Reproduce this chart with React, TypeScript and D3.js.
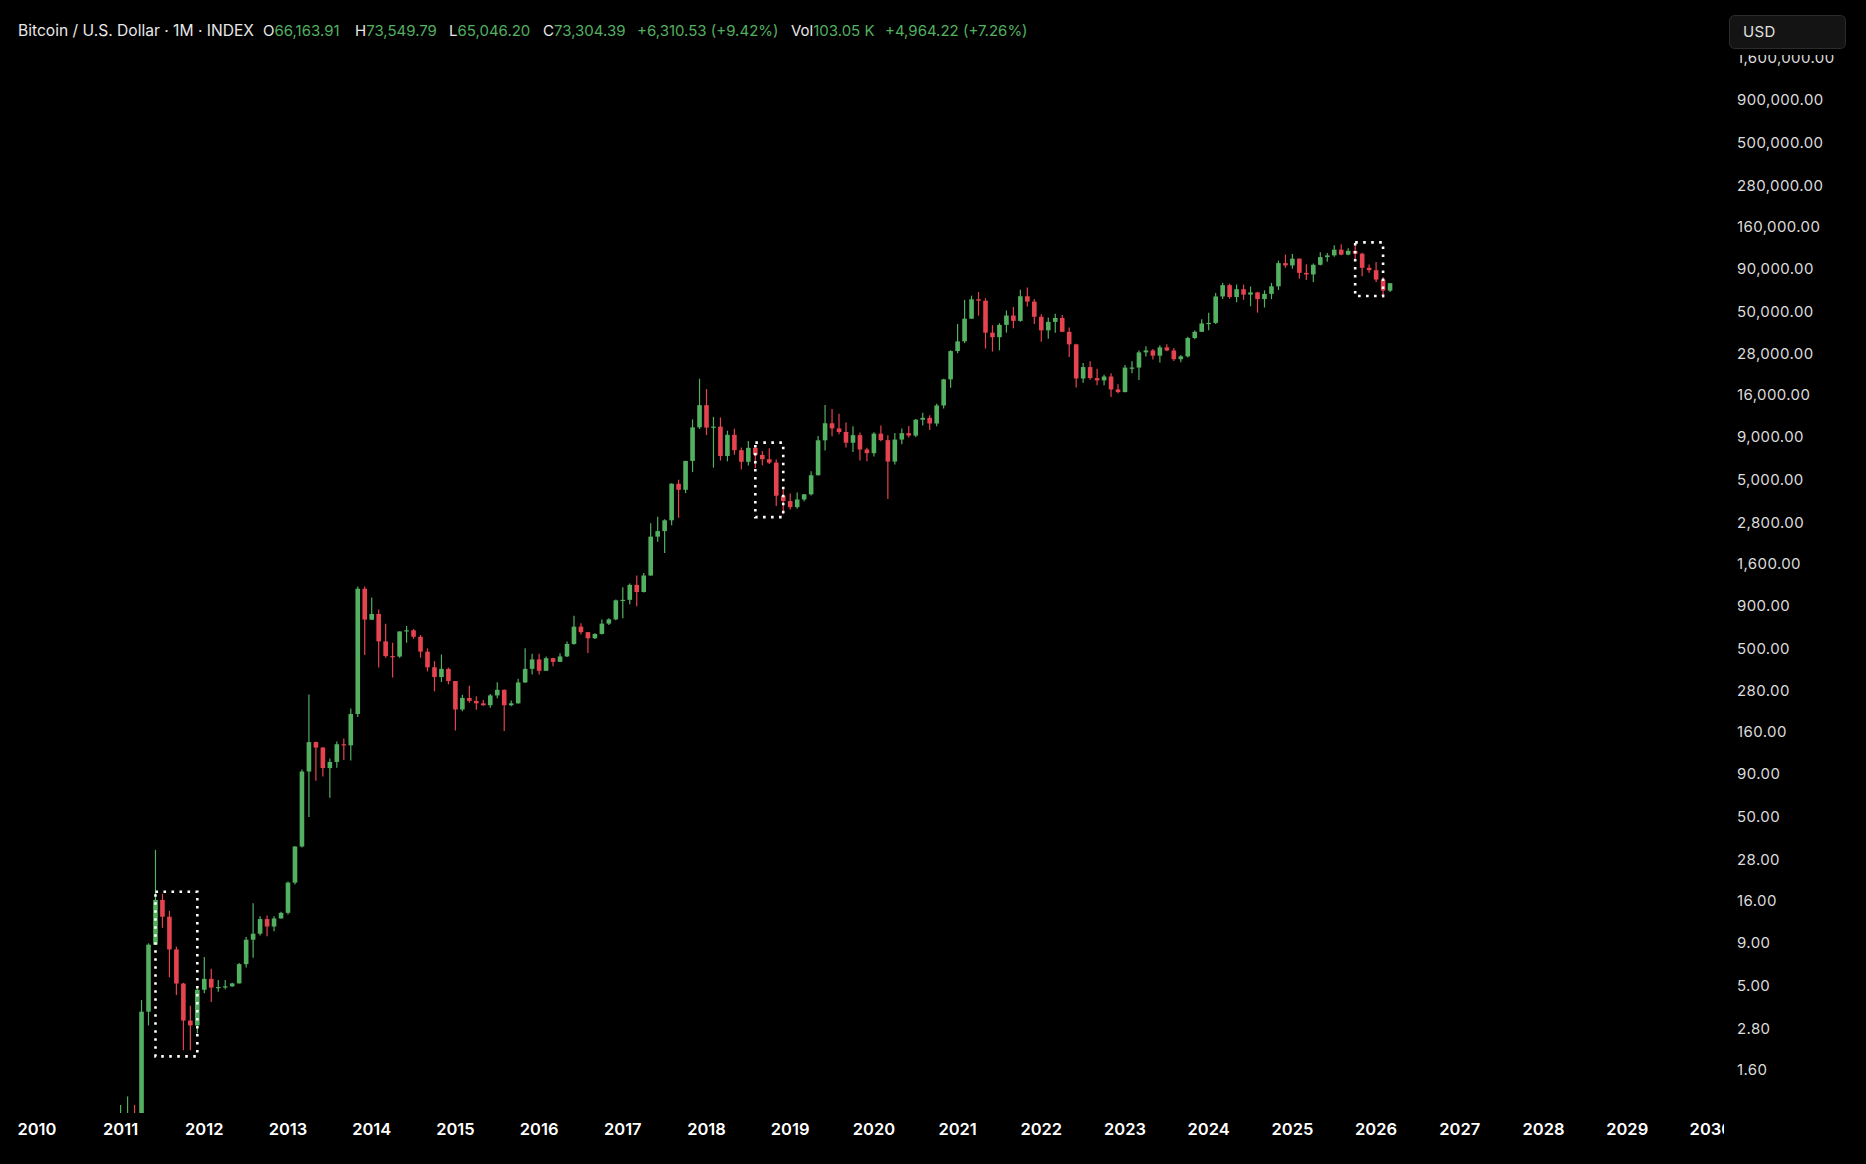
import React from 'react';
import * as d3 from 'd3';

// ---------- DATA (monthly candles, starting Jul 2010) ----------
const START_MONTH = '2010-07';

const opens = [
  // 2010 Jul-Dec
  0.05, 0.07, 0.06, 0.06, 0.19, 0.21,
  // 2011
  0.30, 0.52, 0.86, 0.78, 3.50, 8.74, 16.10, 12.80, 8.19, 5.14, 3.10, 2.90,
  // 2012
  4.72, 5.48, 4.86, 4.90, 4.95, 5.15, 6.70, 9.35, 10.15, 12.40, 11.20, 12.50,
  // 2013
  13.50, 20.40, 33.40, 93.00, 139.00, 129.00, 97.50, 106.00, 135.00, 133.00, 204.00, 1129.00,
  // 2014
  740, 800, 550, 450, 447, 630, 640, 586, 478, 386, 338, 378,
  // 2015
  320, 217, 254, 244, 236, 230, 263, 284, 230, 236, 314, 378,
  // 2016
  430, 368, 437, 416, 448, 531, 673, 624, 574, 609, 701, 743,
  // 2017
  964, 970, 1190, 1080, 1352, 2300, 2480, 2875, 4735, 4360, 6468, 10230,
  // 2018
  13850, 10200, 10330, 6920, 9240, 7490, 6390, 7730, 7020, 6620, 6320, 4020,
  // 2019
  3740, 3440, 3820, 4100, 5320, 8570, 10820, 10080, 9600, 8290, 9200, 7560,
  // 2020
  7190, 9390, 8590, 6410, 8660, 9450, 9140, 11350, 11650, 10780, 13790, 19700,
  // 2021
  28990, 33110, 45140, 58800, 57700, 37300, 35040, 41460, 47100, 43790, 61300, 57000,
  // 2022
  46300, 38480, 43190, 45540, 37700, 31790, 19940, 23300, 20050, 19430, 20490, 17170,
  // 2023
  16550, 23140, 23150, 28480, 29250, 27220, 30480, 29230, 25940, 26970, 34650, 37720,
  // 2024
  42280, 42580, 61130, 71330, 60640, 67500, 62680, 64620, 58970, 63330, 70220, 96400,
  // 2025
  93400, 102400, 84350, 82550, 94200, 104600, 107100, 115800, 108200, 114000, 109600, 90400,
  // 2026
  87500, 77000, 66163.91,
];

const highs = [
  0.10, 0.07, 0.07, 0.19, 0.50, 0.30,
  0.98, 1.10, 0.98, 4.10, 8.90, 31.91, 17.50, 13.90, 8.50, 5.20, 3.80, 4.80,
  7.38, 6.30, 5.40, 5.40, 5.20, 6.80, 9.70, 15.40, 12.90, 13.00, 12.90, 13.70,
  20.70, 33.50, 95.70, 266.00, 140.00, 130.00, 111.00, 140.00, 146.00, 220.00, 1163.00, 1163.00,
  1000, 850, 700, 540, 630, 680, 650, 600, 500, 420, 460, 384,
  320, 265, 300, 260, 247, 268, 315, 285, 245, 330, 500, 465,
  465, 448, 440, 467, 550, 780, 704, 626, 615, 741, 755, 975,
  1154, 1212, 1352, 1399, 2761, 3020, 2917, 4770, 5000, 6470, 11400, 19870,
  17250, 11800, 11700, 9760, 10020, 7760, 8500, 7760, 7400, 7680, 6600, 4400,
  4140, 4200, 4120, 5620, 9090, 13880, 13160, 12330, 10940, 10380, 9520, 7750,
  9580, 10500, 9190, 9460, 10080, 10430, 11460, 12470, 12080, 14100, 19860, 29300,
  41950, 58350, 61780, 64900, 59600, 41300, 42400, 50500, 52900, 67000, 69000, 59100,
  47990, 45800, 48200, 47400, 40000, 31990, 24650, 25200, 22800, 21000, 21450, 18400,
  23950, 25250, 29200, 31000, 29850, 31400, 31800, 30200, 27500, 35200, 38430, 44700,
  48970, 64000, 73800, 72800, 71950, 71900, 70000, 65100, 66500, 73600, 99800, 108300,
  109300, 102500, 95000, 95800, 111900, 110500, 123200, 124500, 117900, 126200, 111000, 94600,
  97900, 79500, 73549.79,
];

const lows = [
  0.05, 0.06, 0.06, 0.06, 0.19, 0.19,
  0.29, 0.52, 0.68, 0.56, 2.90, 8.70, 11.00, 5.60, 4.40, 2.07, 2.07, 2.60,
  4.50, 4.00, 4.60, 4.75, 4.90, 5.15, 6.40, 7.30, 9.90, 9.80, 10.50, 12.50,
  13.20, 19.90, 33.00, 50.00, 82.00, 87.00, 65.00, 98.00, 109.00, 108.00, 196.00, 456.00,
  737, 385, 440, 336, 440, 540, 570, 440, 365, 278, 316, 306,
  163, 212, 238, 216, 228, 222, 253, 162, 227, 235, 312, 350,
  350, 368, 391, 415, 445, 525, 605, 470, 568, 604, 688, 735,
  754, 912, 889, 1072, 1350, 2142, 1837, 2686, 2980, 4165, 5550, 10000,
  9200, 5900, 6500, 6430, 7040, 5750, 6070, 5880, 6100, 6200, 3500, 3120,
  3330, 3370, 3730, 4040, 5300, 7450, 9050, 9320, 7760, 7300, 6510, 6430,
  6870, 8450, 3850, 6150, 8110, 8900, 8980, 10500, 9880, 10370, 13220, 17580,
  28130, 32300, 45000, 47000, 30000, 28800, 29300, 37300, 39600, 43280, 53250, 42000,
  32900, 34300, 37200, 37700, 26700, 17600, 18800, 19600, 18150, 18200, 15500, 16300,
  16500, 21400, 19550, 26950, 25800, 24800, 28900, 25300, 24900, 26560, 34100, 37600,
  38500, 41900, 59000, 59200, 56500, 58400, 53500, 49000, 52550, 58900, 66800, 90500,
  89200, 78200, 76600, 74400, 93300, 98200, 105100, 107300, 107300, 102000, 80500, 84400,
  74500, 60000, 65046.20,
];

const closes = [
  0.07, 0.06, 0.06, 0.19, 0.21, 0.30,
  0.52, 0.86, 0.78, 3.50, 8.74, 16.10, 12.80, 8.19, 5.14, 3.10, 2.90, 4.72,
  5.48, 4.86, 4.90, 4.95, 5.15, 6.70, 9.35, 10.15, 12.40, 11.20, 12.50, 13.50,
  20.40, 33.40, 93.00, 139.00, 129.00, 97.50, 106.00, 135.00, 133.00, 204.00, 1129.00, 740.00,
  800, 550, 450, 447, 630, 640, 586, 478, 386, 338, 378, 320,
  217, 254, 244, 236, 230, 263, 284, 230, 236, 314, 378, 430,
  368, 437, 416, 448, 531, 673, 624, 574, 609, 701, 743, 964,
  970, 1190, 1080, 1352, 2300, 2480, 2875, 4735, 4360, 6468, 10230, 13850,
  10200, 10330, 6920, 9240, 7490, 6390, 7730, 7020, 6620, 6320, 4020, 3740,
  3440, 3820, 4100, 5320, 8570, 10820, 10080, 9600, 8290, 9200, 7560, 7190,
  9390, 8590, 6410, 8660, 9450, 9140, 11350, 11650, 10780, 13790, 19700, 28990,
  33110, 45140, 58800, 57700, 37300, 35040, 41460, 47100, 43790, 61300, 57000, 46300,
  38480, 43190, 45540, 37700, 31790, 19940, 23300, 20050, 19430, 20490, 17170, 16550,
  23140, 23150, 28480, 29250, 27220, 30480, 29230, 25940, 26970, 34650, 37720, 42280,
  42580, 61130, 71330, 60640, 67500, 62680, 64620, 58970, 63330, 70220, 96400, 93400,
  102400, 84350, 82550, 94200, 104600, 107100, 115800, 108200, 114000, 109600, 90400, 87500,
  77000, 66163.91, 73304.39,
];

const yearLabels = ['2010', '2011', '2012', '2013', '2014', '2015', '2016', '2017', '2018', '2019', '2020',
  '2021', '2022', '2023', '2024', '2025', '2026', '2027', '2028', '2029', '2030'];

const priceTicks = [1.6, 2.8, 5, 9, 16, 28, 50, 90, 160, 280, 500, 900, 1600, 2800, 5000, 9000,
  16000, 28000, 50000, 90000, 160000, 280000, 500000, 900000, 1600000];

const boxStarts = ['2011-06', '2018-08', '2025-10'];
const boxEnds = ['2011-12', '2018-12', '2026-02'];
const boxTops = [18, 8300, 128000];
const boxBottoms = [1.9, 3000, 61500];

const headerTitle = 'Bitcoin / U.S. Dollar · 1M · INDEX';
const ohlcKeys = ['O', 'H', 'L', 'C'];
const ohlcValues = ['66,163.91', '73,549.79', '65,046.20', '73,304.39'];
const changeText = '+6,310.53 (+9.42%)';
const volKey = 'Vol';
const volValue = '103.05 K';
const volChange = '+4,964.22 (+7.26%)';

// ---------- LAYOUT ----------
const W = 1866;
const H = 1164;
const plotRight = 1724;
const plotBottom = 1113;
const UP = '#53b060';
const DOWN = '#e5434f';
const FONT = 'Inter, "Noto Sans", Roboto, sans-serif';

const monthIndex = (s: string) => {
  const [y, m] = s.split('-').map(Number);
  return (y - 2010) * 12 + (m - 1);
};

export default function App() {
  const x = d3.scaleLinear().domain([0, 240]).range([36.9, 36.9 + 240 * 6.975]);
  const y = d3.scaleLog().domain([1.6, 1600000]).range([1069, 57.4]);
  const step = x(1) - x(0);
  const bw = step * 0.66;
  const start = monthIndex(START_MONTH);
  const fmt = d3.format(',.2f');

  const candles = opens.map((o, i) => ({
    i: start + i,
    o,
    h: highs[i],
    l: lows[i],
    c: closes[i],
  }));

  const headerX = [263, 355, 449, 543];

  return (
    <svg width={W} height={H} style={{ position: 'fixed', left: 0, top: 0, display: 'block', background: '#000' }}
      fontFamily={FONT}>
      <defs>
        <clipPath id="plotClip">
          <rect x={0} y={0} width={plotRight} height={plotBottom} />
        </clipPath>
        <clipPath id="xClip">
          <rect x={0} y={plotBottom} width={plotRight} height={H - plotBottom} />
        </clipPath>
        <clipPath id="yClip">
          <rect x={plotRight} y={55} width={W - plotRight} height={plotBottom - 55} />
        </clipPath>
      </defs>
      <rect x={0} y={0} width={W} height={H} fill="#000" />

      <g clipPath="url(#plotClip)">
        {candles.map((d) => {
          const cx = x(d.i);
          const up = d.c >= d.o;
          const col = up ? UP : DOWN;
          const yTop = y(Math.max(d.o, d.c));
          const yBot = y(Math.min(d.o, d.c));
          return (
            <g key={d.i}>
              <line x1={cx} x2={cx} y1={y(d.h)} y2={y(d.l)} stroke={col} strokeWidth={1.2} />
              <rect x={cx - bw / 2} y={yTop} width={bw} height={Math.max(1.2, yBot - yTop)} fill={col} />
            </g>
          );
        })}
        {boxStarts.map((s, k) => {
          const x0 = x(monthIndex(s));
          const x1 = x(monthIndex(boxEnds[k]));
          const y0 = y(boxTops[k]);
          const y1 = y(boxBottoms[k]);
          return (
            <rect key={s} x={x0} y={y0} width={x1 - x0} height={y1 - y0} fill="none"
              stroke="#fff" strokeWidth={2.6} strokeDasharray="2.6 5.4" />
          );
        })}
      </g>

      {/* header */}
      <text x={18} y={36} fontSize={15.6} fill="#e8e8e8">{headerTitle}</text>
      {ohlcKeys.map((k, i) => (
        <text key={k} x={headerX[i]} y={36} fontSize={15} fill="#e8e8e8">
          {k}<tspan fill={UP}>{ohlcValues[i]}</tspan>
        </text>
      ))}
      <text x={637} y={36} fontSize={15} fill={UP}>{changeText}</text>
      <text x={791} y={36} fontSize={15} fill="#e8e8e8">
        {volKey}<tspan fill={UP}>{volValue}</tspan>
      </text>
      <text x={885} y={36} fontSize={15} fill={UP}>{volChange}</text>

      {/* price axis */}
      <g clipPath="url(#yClip)">
        {priceTicks.map((t) => (
          <text key={t} x={1737} y={y(t) + 5.5} fontSize={15} fill="#dcdcdc" letterSpacing={0.4}>
            {fmt(t)}
          </text>
        ))}
      </g>
      <rect x={1729.5} y={15.5} width={116} height={33} rx={5} fill="#141414" stroke="#2c2c2c" />
      <text x={1743} y={37} fontSize={15} fill="#e0e0e0" letterSpacing={0.3}>USD</text>

      {/* time axis */}
      <g clipPath="url(#xClip)">
        {yearLabels.map((lab, k) => (
          <text key={lab} x={x(k * 12)} y={1135} fontSize={16.5} fontWeight={600} fill="#ffffff"
            textAnchor="middle">
            {lab}
          </text>
        ))}
      </g>
    </svg>
  );
}
